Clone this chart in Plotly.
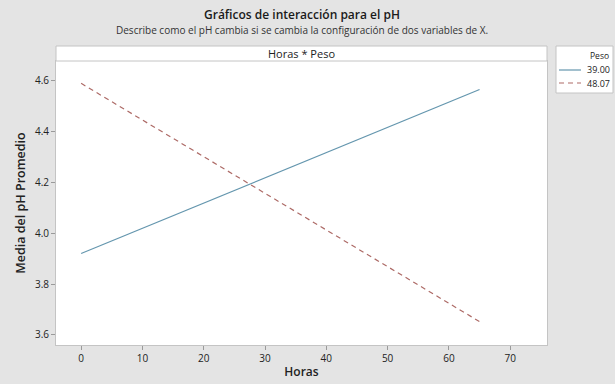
import plotly.graph_objects as go

# Mean pH at each level of Horas, one series per Peso level
horas = [0, 65]
peso_levels = ["39.00", "48.07"]
ph_39 = [3.92, 4.566]
ph_48 = [4.59, 3.652]

x_ticks = [0, 10, 20, 30, 40, 50, 60, 70]
y_ticks = [3.6, 3.8, 4.0, 4.2, 4.4, 4.6]

FONT = "Open Sans"
GRID = "#c4c4c4"
W, H = 615, 384
L, R, T, B = 56, 68, 61, 39

series_styles = [
    dict(color="#6496ae", width=1.2, dash="solid"),
    dict(color="#ad6a66", width=1.2, dash="5px,4px"),
]

fig = go.Figure()
for name, ys, style in zip(peso_levels, [ph_39, ph_48], series_styles):
    fig.add_trace(go.Scatter(x=horas, y=ys, mode="lines", name=name,
                             line=style, showlegend=False))

fig.update_layout(
    width=W, height=H,
    margin=dict(l=L, r=R, t=T, b=B, autoexpand=False),
    paper_bgcolor="#e4e4e4",
    plot_bgcolor="#ffffff",
    font=dict(family=FONT, color="#222222", size=10),
    xaxis=dict(
        range=[-4.1, 76.0], tickvals=x_ticks,
        ticks="outside", ticklen=4, tickcolor="#9a9a9a",
        showgrid=False, zeroline=False,
        showline=True, linecolor=GRID, mirror=True,
        tickfont=dict(size=10),
        title=dict(text="Horas", font=dict(size=12, weight=600), standoff=3),
    ),
    yaxis=dict(
        range=[3.56, 4.678], tickvals=y_ticks, tickformat=".1f",
        ticks="outside", ticklen=4, tickcolor="#9a9a9a",
        showgrid=False, zeroline=False,
        showline=True, linecolor=GRID, mirror=True,
        tickfont=dict(size=10),
        title=dict(text="Media del pH Promedio", font=dict(size=12.5, weight=600), standoff=6),
    ),
)

plot_w = W - L - R
plot_h = H - T - B


def px_x(px):
    return (px - L) / plot_w


def px_y(py):
    return (H - B - py) / plot_h


# Panel header strip above the plotting area
fig.add_shape(type="rect", xref="paper", yref="paper",
              x0=0, x1=1, y0=1, y1=px_y(46),
              fillcolor="#ffffff", line=dict(color=GRID, width=1))
fig.add_annotation(text="Horas * Peso", xref="paper", yref="paper",
                   x=0.5, y=px_y(53.5), showarrow=False,
                   font=dict(size=11, color="#222222", weight=500), yanchor="middle")

# Legend box for the Peso levels
fig.add_shape(type="rect", xref="paper", yref="paper",
              x0=px_x(556), x1=px_x(613), y0=px_y(93), y1=px_y(46),
              fillcolor="#ffffff", line=dict(color=GRID, width=1))
fig.add_annotation(text="Peso", xref="paper", yref="paper",
                   x=px_x(610), y=px_y(55), xanchor="right", yanchor="middle",
                   showarrow=False, font=dict(size=8.5, color="#222222"),
                   borderpad=0)
for i, (name, style) in enumerate(zip(peso_levels, series_styles)):
    row_y = 70 + 13 * i
    fig.add_shape(type="line", xref="paper", yref="paper",
                  x0=px_x(559), x1=px_x(581), y0=px_y(row_y), y1=px_y(row_y),
                  line=style)
    fig.add_annotation(text=name, xref="paper", yref="paper",
                       x=px_x(611), y=px_y(row_y), xanchor="right", yanchor="middle",
                       showarrow=False, font=dict(size=9, color="#222222"),
                       borderpad=0)

# Titles
fig.add_annotation(text="Gráficos de interacción para el pH",
                   xref="paper", yref="paper", x=0.5, y=px_y(14),
                   showarrow=False, yanchor="middle",
                   font=dict(size=12, color="#1a1a1a", weight=600))
fig.add_annotation(text="Describe como el pH cambia si se cambia la configuración de dos variables de X.",
                   xref="paper", yref="paper", x=0.5, y=px_y(30),
                   showarrow=False, yanchor="middle",
                   font=dict(size=10, color="#333333"))

fig.write_html("out.html")
